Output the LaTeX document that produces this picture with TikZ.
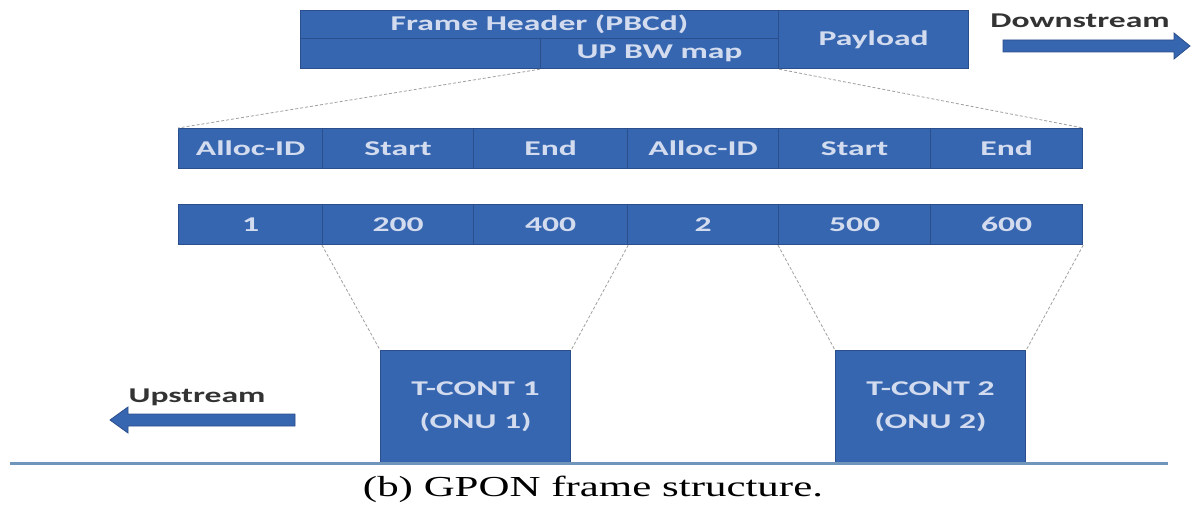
\documentclass[tikz,border=0pt]{standalone}
\usepackage{fontspec}
\newfontfamily\boxfont[FakeStretch=1.6]{Carlito}
\newfontfamily\capfont[FakeStretch=1.48]{Liberation Serif}
\definecolor{cellblue}{HTML}{3766B0}
\definecolor{celledge}{HTML}{2B4E8C}
\definecolor{celltext}{HTML}{D3DCEF}
\definecolor{groundline}{HTML}{7196BC}
\begin{document}
\begin{tikzpicture}[x=1pt,y=-1pt,
  cell/.style={draw=celledge, fill=cellblue, line width=1.2pt, text=celltext,
    font=\boxfont\bfseries\fontsize{21}{24}\selectfont, inner sep=0pt, anchor=north west},
  row/.style={cell, minimum height=40pt},
  tcont/.style={cell, minimum width=190pt, minimum height=112pt, align=center,
    font=\boxfont\bfseries\fontsize{21}{33}\selectfont},
  link/.style={draw=gray!75, densely dashed, line width=0.8pt},
  dirlabel/.style={font=\boxfont\bfseries\fontsize{21}{24}\selectfont, text=black!80, inner sep=0pt},
  blockarrow/.style={fill=cellblue, draw=celledge, line width=0.8pt}]
\useasboundingbox (0,0) rectangle (1192,508);

% downstream frame: header, bandwidth map and payload
\node[cell, minimum width=478pt, minimum height=28pt] (hdr) at (300,10) {Frame Header (PBCd)};
\node[cell, minimum width=240pt, minimum height=30pt] (gap) at (300,38) {};
\node[cell, minimum width=238pt, minimum height=30pt] (bwmap) at (540,38) {UP BW map};
\node[cell, minimum width=190pt, minimum height=58pt] (pay) at (778,10) {Payload};

% bandwidth map fields
\node[row, minimum width=144pt] (f1) at (178,128) {Alloc-ID};
\node[row, minimum width=151pt] (f2) at (322,128) {Start};
\node[row, minimum width=154pt] (f3) at (473,128) {End};
\node[row, minimum width=151pt] (f4) at (627,128) {Alloc-ID};
\node[row, minimum width=152pt] (f5) at (778,128) {Start};
\node[row, minimum width=152pt] (f6) at (930,128) {End};

% bandwidth map values
\node[row, minimum width=144pt] (v1) at (178,204) {1};
\node[row, minimum width=151pt] (v2) at (322,204) {200};
\node[row, minimum width=154pt] (v3) at (473,204) {400};
\node[row, minimum width=151pt] (v4) at (627,204) {2};
\node[row, minimum width=152pt] (v5) at (778,204) {500};
\node[row, minimum width=152pt] (v6) at (930,204) {600};

% upstream transmission containers
\node[tcont] (t1) at (380,350) {T-CONT 1\\(ONU 1)};
\node[tcont] (t2) at (835,350) {T-CONT 2\\(ONU 2)};

% expansion guides
\draw[link] (bwmap.south west) -- (f1.north west);
\draw[link] (bwmap.south east) -- (f6.north east);
\draw[link] (v2.south west) -- (t1.north west);
\draw[link] (v3.south east) -- (t1.north east);
\draw[link] (v5.south west) -- (t2.north west);
\draw[link] (v6.south east) -- (t2.north east);

% ground line
\draw[groundline, line width=3pt] (10,463) -- (1168,463);

% direction arrows
\node[dirlabel] (down) at (1080,21) {Downstream};
\draw[blockarrow] (1003,40) -- (1174,40) -- (1174,33) -- (1190,46) -- (1174,59)
  -- (1174,52) -- (1003,52) -- cycle;
\node[dirlabel] (up) at (197,397) {Upstream};
\draw[blockarrow] (295,414) -- (128,414) -- (128,407) -- (110,420) -- (128,433)
  -- (128,426) -- (295,426) -- cycle;

% caption
\node[font=\capfont\fontsize{29}{32}\selectfont, inner sep=0pt] (cap) at (593,489)
  {(b) GPON frame structure.};
\end{tikzpicture}
\end{document}
